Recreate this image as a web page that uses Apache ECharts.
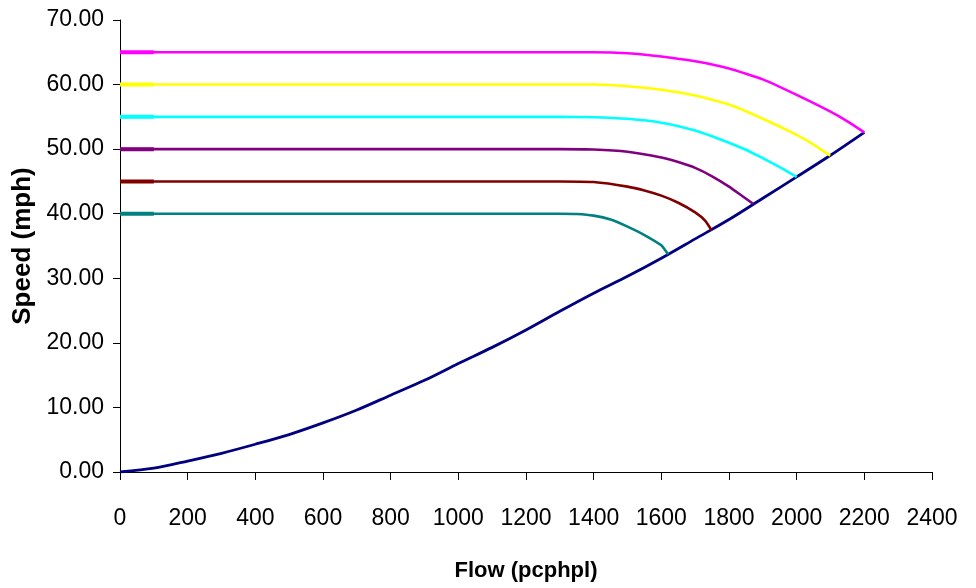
<!DOCTYPE html>
<html>
<head>
<meta charset="utf-8">
<script src="https://cdn.jsdelivr.net/npm/echarts@6/dist/echarts.min.js"></script>
<style>html,body{margin:0;padding:0;background:#fff}#c{width:976px;height:588px}</style>
</head>
<body>
<div id="c"></div>
<script>
// Capacity (breakdown) curve
const capFlow  = [0,100,200,300,400,500,600,700,800,900,1000,1100,1200,1300,1400,1500,1600,1700,1800,1900,2000,2100,2200];
const capSpeed = [0,0.6,1.7,2.9,4.3,5.8,7.6,9.6,11.9,14.2,16.8,19.3,22.0,24.9,27.7,30.3,33.1,36.1,39.1,42.4,45.7,49.05,52.6];

// Free-flow speed curves
const f40 = [0,100,1300,1350,1400,1450,1500,1550,1600,1620];
const s40 = [40,40,40,39.95,39.7,39.1,38.0,36.7,35.1,33.7];
const f45 = [0,100,1300,1400,1500,1550,1600,1650,1700,1730,1749];
const s45 = [45,45,45,44.9,44.2,43.6,42.8,41.7,40.2,38.9,37.4];
const f50 = [0,100,1300,1400,1500,1600,1650,1700,1750,1800,1840,1872];
const s50 = [50,50,50,49.95,49.6,48.7,48.0,47.1,45.8,44.2,42.7,41.5];
const f55 = [0,100,1300,1400,1500,1600,1700,1750,1800,1850,1900,1950,2000];
const s55 = [55,55,55,54.95,54.7,54.1,52.9,52.0,51.0,49.9,48.6,47.2,45.7];
const f60 = [0,100,1300,1400,1500,1600,1700,1800,1900,2000,2050,2099];
const s60 = [60,60,60,60,59.75,59.2,58.3,56.9,54.7,52.2,50.7,49.0];
const f65 = [0,100,1300,1400,1500,1600,1700,1800,1900,2000,2100,2150,2200];
const s65 = [65,65,65,65,64.85,64.35,63.6,62.5,60.8,58.4,55.8,54.3,52.6];

const xTicks = {min:0, max:2400, interval:200};
const yTicks = {min:0, max:70, interval:10};

const pairs = (xs, ys) => xs.map((x, i) => [x, ys[i]]);

const curves = [
  {name:'FFS 40', f:f40, s:s40, color:'#008080'},
  {name:'FFS 45', f:f45, s:s45, color:'#800000'},
  {name:'FFS 50', f:f50, s:s50, color:'#800080'},
  {name:'FFS 55', f:f55, s:s55, color:'#00FFFF'},
  {name:'FFS 60', f:f60, s:s60, color:'#FFFF00'},
  {name:'FFS 65', f:f65, s:s65, color:'#FF00FF'}
];

const series = [{
  name:'Capacity', type:'line', data:pairs(capFlow, capSpeed), showSymbol:false,
  smooth:0.3,
  lineStyle:{color:'#000080', width:2.8}, itemStyle:{color:'#000080'}, animation:false, z:2
}];
curves.forEach(c => {
  series.push({name:c.name, type:'line', data:pairs(c.f, c.s), showSymbol:false,
    smooth:0.15,
    lineStyle:{color:c.color, width:2.6}, itemStyle:{color:c.color}, animation:false, z:3});
  series.push({name:c.name + ' start', type:'line', data:pairs(c.f.slice(0,2), c.s.slice(0,2)), showSymbol:false,
    lineStyle:{color:c.color, width:4}, itemStyle:{color:c.color}, animation:false, z:4});
});

const labelFont = {fontFamily:'"Liberation Sans",Arial,sans-serif', fontSize:23, color:'#000'};
const nameFont = {fontFamily:'"Liberation Sans",Arial,sans-serif', fontSize:22, fontWeight:'bold', color:'#000'};

const chart = echarts.init(document.getElementById('c'));
chart.setOption({
  backgroundColor:'#fff',
  animation:false,
  grid:{left:120, right:44, top:20, bottom:116, outerBoundsMode:'none'},
  xAxis:{
    type:'value', min:xTicks.min, max:xTicks.max, interval:xTicks.interval,
    name:'Flow (pcphpl)', nameLocation:'middle', nameGap:88, nameTextStyle:nameFont,
    axisLine:{show:true, lineStyle:{color:'#000', width:1}},
    axisTick:{show:true, inside:false, length:8, lineStyle:{color:'#000'}},
    axisLabel:Object.assign({margin:35, formatter:v => String(v)}, labelFont),
    splitLine:{show:false}
  },
  yAxis:{
    type:'value', min:yTicks.min, max:yTicks.max, interval:yTicks.interval,
    name:'Speed (mph)', nameLocation:'middle', nameGap:80, nameRotate:90,
    nameTextStyle:Object.assign({}, nameFont, {fontSize:26}),
    axisLine:{show:true, lineStyle:{color:'#000', width:1}},
    axisTick:{show:true, inside:false, length:7, lineStyle:{color:'#000'}},
    axisLabel:Object.assign({margin:16, formatter:v => v.toFixed(2)}, labelFont),
    splitLine:{show:false}
  },
  series:series
});
</script>
</body>
</html>
